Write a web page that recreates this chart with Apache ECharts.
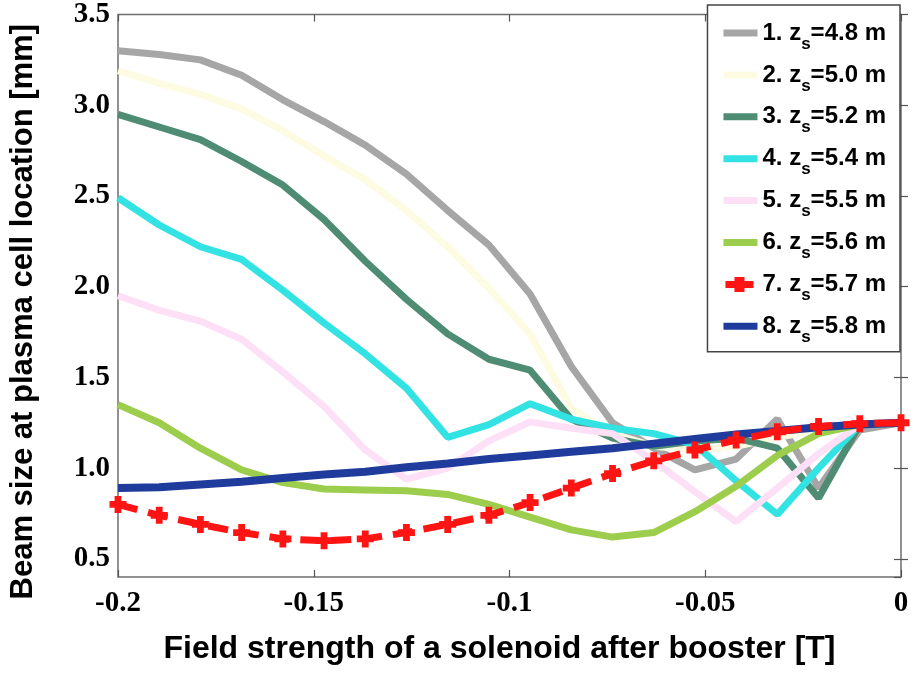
<!DOCTYPE html>
<html>
<head>
<meta charset="utf-8">
<script src="https://cdn.jsdelivr.net/npm/echarts@6/dist/echarts.min.js"></script>
<style>
html, body { margin: 0; padding: 0; background: #fff; }
#chart { width: 915px; height: 675px; }
</style>
</head>
<body>
<div id="chart"></div>
<script>
// field strength of the solenoid [T], 20 points from -0.2 to 0
var fieldT = [-0.2, -0.18947, -0.17895, -0.16842, -0.15789, -0.14737, -0.13684, -0.12632, -0.11579, -0.10526,
	-0.09474, -0.08421, -0.07368, -0.06316, -0.05263, -0.04211, -0.03158, -0.02105, -0.01053, 0];

// beam size at plasma cell [mm] for each z_s
var zs48 = [3.30, 3.28, 3.25, 3.165, 3.03, 2.91, 2.78, 2.62, 2.42, 2.23, 1.96, 1.56, 1.25, 1.11, 0.99, 1.05, 1.27, 0.89, 1.21, 1.25];
var zs50 = [3.19, 3.12, 3.06, 2.98, 2.86, 2.72, 2.59, 2.42, 2.22, 1.99, 1.74, 1.33, 1.19, 1.12, 1.10, 1.12, 1.17, 1.21, 1.24, 1.25];
var zs52 = [2.95, 2.88, 2.81, 2.69, 2.56, 2.37, 2.14, 1.93, 1.74, 1.60, 1.54, 1.27, 1.165, 1.12, 1.15, 1.165, 1.11, 0.835, 1.24, 1.25];
var zs54 = [2.49, 2.34, 2.22, 2.15, 1.98, 1.80, 1.63, 1.44, 1.17, 1.24, 1.355, 1.27, 1.22, 1.19, 1.13, 0.93, 0.745, 1.00, 1.24, 1.25];
var zs55 = [1.95, 1.87, 1.81, 1.71, 1.53, 1.34, 1.10, 0.94, 1.00, 1.15, 1.255, 1.22, 1.19, 1.04, 0.87, 0.705, 0.89, 1.08, 1.24, 1.25];
var zs56 = [1.35, 1.25, 1.11, 0.99, 0.92, 0.885, 0.88, 0.875, 0.855, 0.80, 0.73, 0.66, 0.62, 0.645, 0.76, 0.90, 1.07, 1.19, 1.24, 1.25];
var zs57 = [0.80, 0.74, 0.69, 0.645, 0.61, 0.60, 0.61, 0.645, 0.69, 0.74, 0.81, 0.89, 0.97, 1.04, 1.10, 1.155, 1.20, 1.23, 1.245, 1.25];
var zs58 = [0.89, 0.895, 0.91, 0.925, 0.945, 0.965, 0.98, 1.005, 1.025, 1.05, 1.07, 1.09, 1.11, 1.135, 1.16, 1.185, 1.205, 1.225, 1.24, 1.25];

var zsValues = ['4.8', '5.0', '5.2', '5.4', '5.5', '5.6', '5.7', '5.8'];
var seriesData = [zs48, zs50, zs52, zs54, zs55, zs56, zs57, zs58];
var colors = ['#a6a6a6', '#fdfbe2', '#4f8c74', '#33e3e3', '#fde0f6', '#9ccd4c', '#ff1414', '#1f3c9c'];

var plusPath = 'path://M3,0 H7 V3 H10 V7 H7 V10 H3 V7 H0 V3 H3 Z';
// legend icons drawn in a 34x17 box (tiny corner dots keep the box size)
var lineIcon = 'path://M0,0 H0.01 V0.01 H0 Z M0,5 H34 V12 H0 Z M33.99,16.99 H34 V17 H33.99 Z';
var plusIcon = 'path://M0,0 H0.01 V0.01 H0 Z M2,5 H11 V1 H21 V5 H30 V12 H21 V16 H11 V12 H2 Z M33.99,16.99 H34 V17 H33.99 Z';

function pairs(ys) {
	return ys.map(function (y, i) { return [fieldT[i], y]; });
}

var chart = echarts.init(document.getElementById('chart'));

var names = zsValues.map(function (v, i) { return (i + 1) + '. z_s=' + v + ' m'; });

var series = seriesData.map(function (ys, i) {
	var isRed = i === 6;
	return {
		name: names[i],
		type: 'line',
		data: pairs(ys),
		z: isRed ? 4 : 2,
		symbol: isRed ? plusPath : 'none',
		symbolSize: 17,
		showAllSymbol: true,
		itemStyle: { color: colors[i] },
		lineStyle: {
			color: colors[i],
			width: i === 7 ? 8 : 7,
			type: isRed ? [20, 11] : 'solid'
		},
		emphasis: { disabled: true },
		animation: false
	};
});

var tickFont = {
	fontFamily: 'Liberation Serif',
	fontWeight: 'bold',
	fontSize: 29,
	color: '#000'
};

var option = {
	backgroundColor: '#fff',
	grid: {
		left: 117,
		right: 14,
		top: 5,
		bottom: 98,
		show: true,
		borderColor: '#6e6e6e',
		borderWidth: 1.5
	},
	legend: {
		orient: 'vertical',
		right: 15,
		top: 5,
		padding: [16, 14, 6, 16],
		itemGap: 10.4,
		itemWidth: 34,
		itemHeight: 17,
		backgroundColor: '#fff',
		borderColor: '#444',
		borderWidth: 1.5,
		borderRadius: 0,
		data: names.map(function (n, i) {
			return { name: n, icon: i === 6 ? plusIcon : lineIcon, itemStyle: { color: colors[i] } };
		}),
		textStyle: {
			rich: {
				t: { fontFamily: 'Liberation Sans', fontWeight: 'bold', fontSize: 24, color: '#000' },
				sub: { fontFamily: 'Liberation Sans', fontWeight: 'bold', fontSize: 17, color: '#000', padding: [22, 0, 0, 0] }
			}
		},
		formatter: function (name) {
			var p = name.split('_s');
			return '{t|' + p[0] + '}{sub|s}{t|' + p[1] + '}';
		},
		selectedMode: false
	},
	xAxis: [{
		type: 'value',
		min: -0.2,
		max: 0,
		interval: 0.05,
		name: 'Field strength of a solenoid after booster [T]',
		nameLocation: 'middle',
		nameGap: 56,
		nameTextStyle: {
			fontFamily: 'Liberation Sans',
			fontWeight: 'bold',
			fontSize: 32,
			color: '#000',
			padding: [0, 20, 0, 0]
		},
		axisLine: { show: false },
		axisTick: { inside: true, length: 7, lineStyle: { color: '#555', width: 1.2 } },
		axisLabel: Object.assign({ margin: 12 }, tickFont),
		splitLine: { show: false }
	}, {
		type: 'value',
		position: 'top',
		min: -0.2,
		max: 0,
		interval: 0.05,
		axisLine: { show: false },
		axisTick: { inside: true, length: 7, lineStyle: { color: '#555', width: 1.2 } },
		axisLabel: { show: false },
		splitLine: { show: false }
	}],
	yAxis: [{
		type: 'value',
		min: 0.4,
		max: 3.5,
		splitNumber: 6,
		name: 'Beam size at plasma cell location [mm]',
		nameLocation: 'middle',
		nameGap: 79,
		nameTextStyle: {
			fontFamily: 'Liberation Sans',
			fontWeight: 'bold',
			fontSize: 31,
			color: '#000',
			padding: [0, 32, 0, 0]
		},
		axisLine: { show: false },
		axisTick: { inside: true, length: 7, lineStyle: { color: '#555', width: 1.2 } },
		axisLabel: Object.assign({
			margin: 8,
			showMinLabel: false,
			formatter: function (v) {
				return Math.abs(v * 2 - Math.round(v * 2)) < 1e-6 ? v.toFixed(1) : '';
			}
		}, tickFont),
		splitLine: { show: false }
	}, {
		type: 'value',
		position: 'right',
		min: 0.4,
		max: 3.5,
		splitNumber: 6,
		axisLine: { show: false },
		axisTick: { inside: true, length: 7, lineStyle: { color: '#555', width: 1.2 } },
		axisLabel: { show: false },
		splitLine: { show: false }
	}],
	series: series
};

chart.setOption(option);
</script>
</body>
</html>
